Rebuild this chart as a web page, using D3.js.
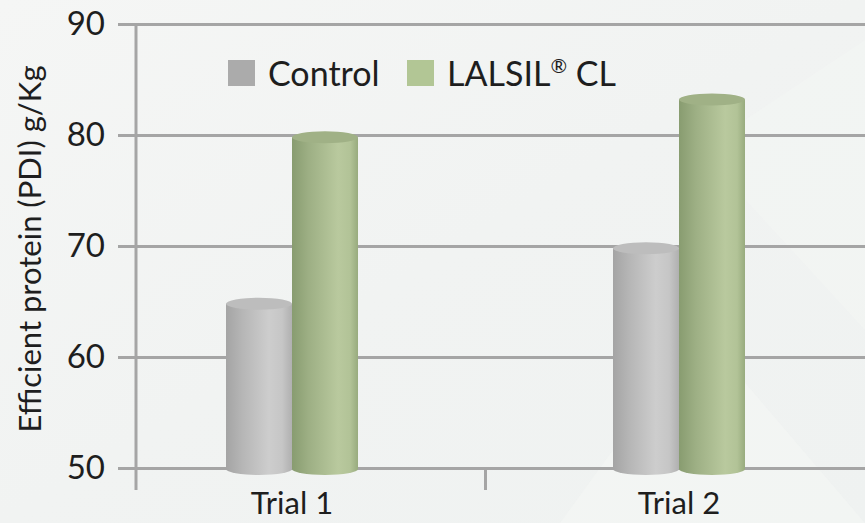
<!DOCTYPE html>
<html>
<head>
<meta charset="utf-8">
<script src="https://cdn.jsdelivr.net/npm/d3@7/dist/d3.min.js"></script>
<style>
html,body{margin:0;padding:0;background:#f2f4f3;}
svg{display:block;}
text{font-family:Lato,"Open Sans",sans-serif;fill:#1e1e1e;}
</style>
</head>
<body>
<script>
const categories = ["Trial 1", "Trial 2"];
const seriesNames = ["Control", "LALSIL® CL"];
const controlValues = [64.8, 69.8];
const lalsilValues = [79.8, 83.2];
const yTicks = [50, 60, 70, 80, 90];
const yTitle = "Efficient protein (PDI) g/Kg";

const W = 865, H = 523;
const svg = d3.select("body").append("svg").attr("width", W).attr("height", H);
const defs = svg.append("defs");

// background
const bg = defs.append("linearGradient").attr("id","bg").attr("x1","0").attr("y1","0").attr("x2","1").attr("y2","1");
bg.append("stop").attr("offset","0").attr("stop-color","#f5f6f5");
bg.append("stop").attr("offset","0.5").attr("stop-color","#f1f3f2");
bg.append("stop").attr("offset","1").attr("stop-color","#eff2f1");
svg.append("rect").attr("width",W).attr("height",H).attr("fill","url(#bg)");
svg.append("path").attr("d","M560,523 L700,330 L865,523 Z").attr("fill","#f5f7f6").attr("opacity",0.5);
svg.append("path").attr("d","M700,150 L865,40 L865,330 Z").attr("fill","#f5f7f6").attr("opacity",0.4);

function cylGrad(id, stops){
  const g = defs.append("linearGradient").attr("id",id).attr("x1","0").attr("x2","1").attr("y1","0").attr("y2","0");
  stops.forEach(s=>g.append("stop").attr("offset",s[0]).attr("stop-color",s[1]));
}
cylGrad("gGray", [[0,"#a4a4a4"],[0.25,"#b6b6b6"],[0.65,"#cdcdcd"],[0.85,"#c6c6c6"],[1,"#b0b0b0"]]);
cylGrad("gGreen", [[0,"#889c70"],[0.25,"#9daf84"],[0.7,"#b9c99e"],[0.88,"#b2c397"],[1,"#98ab7e"]]);
const topFill = {"Control":"#bdbdbd","LALSIL® CL":"#a0b186"};
const bodyFill = {"Control":"url(#gGray)","LALSIL® CL":"url(#gGreen)"};
const legendFill = {"Control":"#ababab","LALSIL® CL":"#b2c695"};

const y = d3.scaleLinear().domain([50, 90]).range([468, 24]);
const x = d3.scalePoint().domain(categories).range([292, 679]);
const xs = d3.scaleBand().domain(seriesNames).range([-66, 66]);

// gridlines + tick labels
const yAxis = d3.axisLeft(y).tickValues(yTicks).tickSize(-760).tickPadding(13).tickFormat(d3.format("d"));
const gy = svg.append("g").attr("transform","translate(118,0)").call(yAxis);
gy.select(".domain").remove();
gy.selectAll(".tick line").attr("stroke","#a5a5a5").attr("stroke-width",3);
gy.selectAll(".tick text").attr("font-size",33).attr("fill","#1e1e1e").style("font-family","Lato,sans-serif");

// y axis vertical line
svg.append("line").attr("x1",136).attr("x2",136).attr("y1",y(90)-1).attr("y2",y(50)+22)
  .attr("stroke","#a5a5a5").attr("stroke-width",3);
// category separator tick
const mid = (x(categories[0]) + x(categories[1]))/2;
svg.append("line").attr("x1",mid).attr("x2",mid).attr("y1",y(50)).attr("y2",y(50)+22)
  .attr("stroke","#a5a5a5").attr("stroke-width",3);

// bars (cylinders)
const data = [];
categories.forEach((c,i)=>{
  data.push({cat:c, s:seriesNames[0], v:controlValues[i]});
  data.push({cat:c, s:seriesNames[1], v:lalsilValues[i]});
});
const ry = 6;
const bars = svg.append("g").selectAll("g").data(data).join("g")
  .attr("transform", d=>`translate(${x(d.cat)+xs(d.s)},0)`);
const bw = xs.bandwidth();
bars.append("path")
  .attr("d", d=>{
    const t = y(d.v), b = y(50)+1;
    return `M0,${t} L0,${b} A${bw/2},${ry} 0 0 0 ${bw},${b} L${bw},${t} Z`;
  })
  .attr("fill", d=>bodyFill[d.s]);
bars.append("ellipse")
  .attr("cx", bw/2).attr("cy", d=>y(d.v)).attr("rx", bw/2).attr("ry", ry)
  .attr("fill", d=>topFill[d.s]);

// x labels
svg.append("g").selectAll("text").data(categories).join("text")
  .attr("x", d=>x(d)).attr("y", 514).attr("text-anchor","middle")
  .attr("font-size",31).text(d=>d);

// y title
svg.append("text").attr("transform","translate(41,249) rotate(-90)")
  .attr("text-anchor","middle").attr("font-size",31).text(yTitle);

// legend
const leg = svg.append("g").selectAll("g").data(seriesNames).join("g")
  .attr("transform",(d,i)=>`translate(${i===0?228:407},60)`);
leg.append("rect").attr("width",27).attr("height",26).attr("fill",d=>legendFill[d]);
leg.append("text").attr("x",40).attr("y",26).attr("font-size",34)
  .each(function(d){
    const t = d3.select(this);
    const parts = d.split("®");
    if (parts.length === 1) { t.text(d); return; }
    t.append("tspan").text(parts[0]);
    t.append("tspan").attr("font-size",20).attr("dy",-13).text("®");
    t.append("tspan").attr("dy",13).text(parts[1]);
  });
</script>
</body>
</html>
